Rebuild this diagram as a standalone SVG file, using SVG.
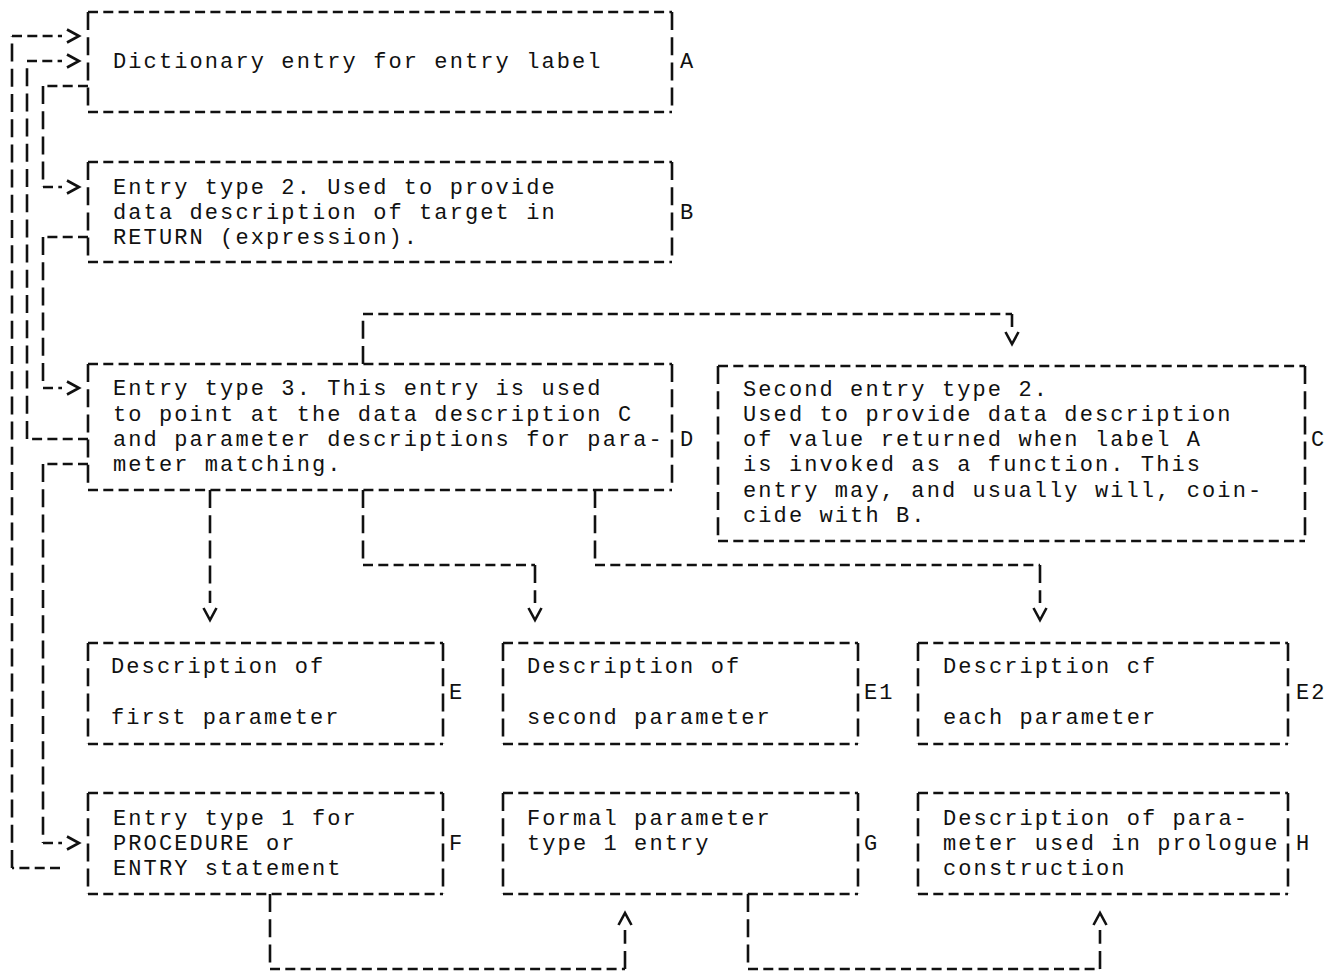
<svg xmlns="http://www.w3.org/2000/svg" width="1339" height="975" viewBox="0 0 1339 975">
<style>
  .h{fill:none;stroke:#111;stroke-width:2.6;stroke-dasharray:10 5.3}
  .v{fill:none;stroke:#111;stroke-width:2.6;stroke-dasharray:18 7.2}
  .a{marker-end:url(#arr)}
  text{font-family:"Liberation Mono","DejaVu Sans Mono",monospace;font-size:22px;letter-spacing:2.1px;fill:#111}
</style>
<defs>
  <marker id="arr" markerUnits="userSpaceOnUse" viewBox="0 -10 30 20" markerWidth="30" markerHeight="20" refX="0" refY="0" orient="auto" overflow="visible">
    <path d="M5,-6.5 L17,0 L5,6.5" fill="none" stroke="#111" stroke-width="2.6" stroke-dasharray="none"/>
  </marker>
</defs>
<rect width="1339" height="975" fill="#fff"/>

<g id="connectors">
  <g id="e-F-A"><path class="h" d="M60,868 H12"/><path class="v" d="M12,868 V36"/><path class="h a" d="M12,36 H62"/></g>
  <g id="e-D-A"><path class="h" d="M88,439 H27"/><path class="v" d="M27,439 V61"/><path class="h a" d="M27,61 H62"/></g>
  <g id="e-A-B"><path class="h" d="M88,86 H43"/><path class="v" d="M43,86 V187"/><path class="h a" d="M43,187 H62"/></g>
  <g id="e-B-D"><path class="h" d="M88,237 H43"/><path class="v" d="M43,237 V388"/><path class="h a" d="M43,388 H62"/></g>
  <g id="e-D-F"><path class="h" d="M88,464 H43"/><path class="v" d="M43,464 V843"/><path class="h a" d="M43,843 H62"/></g>
  <g id="e-D-C"><path class="v" d="M363,364 V314"/><path class="h" d="M363,314 H1012"/><path class="v a" d="M1012,314 V327"/></g>
  <g id="e-D-E"><path class="v a" d="M210,490 V603"/></g>
  <g id="e-D-E1"><path class="v" d="M363,490 V565"/><path class="h" d="M363,565 H535"/><path class="v a" d="M535,565 V603"/></g>
  <g id="e-D-E2"><path class="v" d="M595,490 V565"/><path class="h" d="M595,565 H1040"/><path class="v a" d="M1040,565 V603"/></g>
  <g id="e-F-G"><path class="v" d="M270,894 V969"/><path class="h" d="M270,969 H625"/><path class="v a" d="M625,969 V930"/></g>
  <g id="e-G-H"><path class="v" d="M748,894 V969"/><path class="h" d="M748,969 H1100"/><path class="v a" d="M1100,969 V930"/></g>
</g>

<g id="node-A">
  <path class="h" d="M88,12 H672 M88,112 H672"/><path class="v" d="M88,12 V112 M672,12 V112"/>
  <text x="113" y="68">Dictionary entry for entry label</text>
  <text x="680" y="68">A</text>
</g>
<g id="node-B">
  <path class="h" d="M88,162 H672 M88,262 H672"/><path class="v" d="M88,162 V262 M672,162 V262"/>
  <text x="113" y="194">Entry type 2. Used to provide</text>
  <text x="113" y="219">data description of target in</text>
  <text x="113" y="244">RETURN (expression).</text>
  <text x="680" y="219">B</text>
</g>
<g id="node-D">
  <path class="h" d="M88,364 H672 M88,490 H672"/><path class="v" d="M88,364 V490 M672,364 V490"/>
  <text x="113" y="395">Entry type 3. This entry is used</text>
  <text x="113" y="421">to point at the data description C</text>
  <text x="113" y="446">and parameter descriptions for para-</text>
  <text x="113" y="471">meter matching.</text>
  <text x="680" y="446">D</text>
</g>
<g id="node-C">
  <path class="h" d="M718,366 H1305 M718,541 H1305"/><path class="v" d="M718,366 V541 M1305,366 V541"/>
  <text x="743" y="396">Second entry type 2.</text>
  <text x="743" y="421">Used to provide data description</text>
  <text x="743" y="446">of value returned when label A</text>
  <text x="743" y="471">is invoked as a function. This</text>
  <text x="743" y="497">entry may, and usually will, coin-</text>
  <text x="743" y="522">cide with B.</text>
  <text x="1311" y="446">C</text>
</g>
<g id="node-E">
  <path class="h" d="M88,643 H443 M88,744 H443"/><path class="v" d="M88,643 V744 M443,643 V744"/>
  <text x="111" y="673">Description of</text>
  <text x="111" y="724">first parameter</text>
  <text x="449" y="699">E</text>
</g>
<g id="node-E1">
  <path class="h" d="M503,643 H858 M503,744 H858"/><path class="v" d="M503,643 V744 M858,643 V744"/>
  <text x="527" y="673">Description of</text>
  <text x="527" y="724">second parameter</text>
  <text x="864" y="699">E1</text>
</g>
<g id="node-E2">
  <path class="h" d="M918,643 H1288 M918,744 H1288"/><path class="v" d="M918,643 V744 M1288,643 V744"/>
  <text x="943" y="673">Description cf</text>
  <text x="943" y="724">each parameter</text>
  <text x="1296" y="699">E2</text>
</g>
<g id="node-F">
  <path class="h" d="M88,793 H443 M88,894 H443"/><path class="v" d="M88,793 V894 M443,793 V894"/>
  <text x="113" y="825">Entry type 1 for</text>
  <text x="113" y="850">PROCEDURE or</text>
  <text x="113" y="875">ENTRY statement</text>
  <text x="449" y="850">F</text>
</g>
<g id="node-G">
  <path class="h" d="M503,793 H858 M503,894 H858"/><path class="v" d="M503,793 V894 M858,793 V894"/>
  <text x="527" y="825">Formal parameter</text>
  <text x="527" y="850">type 1 entry</text>
  <text x="864" y="850">G</text>
</g>
<g id="node-H">
  <path class="h" d="M918,793 H1288 M918,894 H1288"/><path class="v" d="M918,793 V894 M1288,793 V894"/>
  <text x="943" y="825">Description of para-</text>
  <text x="943" y="850">meter used in prologue</text>
  <text x="943" y="875">construction</text>
  <text x="1296" y="850">H</text>
</g>
</svg>
